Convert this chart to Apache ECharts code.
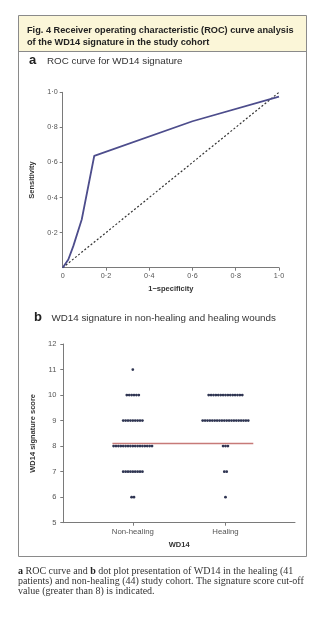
<!DOCTYPE html>
<html><head><meta charset="utf-8">
<script src="https://cdn.jsdelivr.net/npm/echarts@6/dist/echarts.min.js"></script>
<style>html,body{margin:0;padding:0;background:#fff}#c{width:325px;height:621px}</style>
</head><body><div id="c"></div>
<script>
// ---- Panel a: ROC curve ----
var rocFpr = [0, 0.026, 0.049, 0.088, 0.146, 0.6, 1.0];
var rocTpr = [0, 0.047, 0.123, 0.275, 0.638, 0.835, 0.975];
var diagX = [0, 1.0];
var diagY = [0, 1.0];
var rocXTicks = [0, 0.2, 0.4, 0.6, 0.8, 1.0];
var rocXLabels = ['0', '0·2', '0·4', '0·6', '0·8', '1·0'];
var rocYTicks = [0.2, 0.4, 0.6, 0.8, 1.0];
var rocYLabels = ['0·2', '0·4', '0·6', '0·8', '1·0'];

// ---- Panel b: dot plot (number of patients at each score) ----
var groups = ['Non-healing', 'Healing'];
var scores = [6, 7, 8, 9, 10, 11];
var nonHealingCounts = [2, 9, 17, 9, 6, 1];
var healingCounts = [1, 2, 3, 20, 15, 0];
var cutoffValue = 8.1;
var cutoffSpan = [-0.22, 1.3];
var dotYTicks = [5, 6, 7, 8, 9, 10, 11, 12];

var rocData = rocFpr.map(function (x, i) { return [x, rocTpr[i]]; });
var diagData = diagX.map(function (x, i) { return [x, diagY[i]]; });
var dotData = [];
[nonHealingCounts, healingCounts].forEach(function (counts, g) {
  counts.forEach(function (n, i) { if (n > 0) dotData.push([g, scores[i], n]); });
});

var axisCol = '#7a7a7a', labCol = '#555', fontF = '"Liberation Sans", Arial, sans-serif';
var serifF = '"Liberation Serif", "Times New Roman", serif';
var chart = echarts.init(document.getElementById('c'), null, {renderer: 'canvas'});
chart.setOption({
  animation: false,
  backgroundColor: '#fff',
  graphic: [
    {type: 'rect', shape: {x: 18.5, y: 15.5, width: 288, height: 36}, style: {fill: '#fbf6d8', stroke: 'none'}},
    {type: 'rect', shape: {x: 18.5, y: 15.5, width: 288, height: 541}, style: {fill: 'none', stroke: '#8a8a8a', lineWidth: 1}},
    {type: 'line', shape: {x1: 18.5, y1: 51.5, x2: 306.5, y2: 51.5}, style: {stroke: '#8a8a8a', lineWidth: 1}},
    {type: 'text', left: 27, top: 24, style: {text: 'Fig. 4 Receiver operating characteristic (ROC) curve analysis\nof the WD14 signature in the study cohort', font: 'bold 9.2px ' + fontF, fill: '#222', lineHeight: 12.5}},
    {type: 'text', left: 29, top: 54, style: {text: '{b|a}{t|ROC curve for WD14 signature}', rich: {b: {font: 'bold 13px ' + fontF, fill: '#222', width: 18}, t: {font: '9.8px ' + fontF, fill: '#333', padding: [2, 0, 0, 0]}}}},
    {type: 'text', left: 34, top: 311, style: {text: '{b|b}{t|WD14 signature in non-healing and healing wounds}', rich: {b: {font: 'bold 13px ' + fontF, fill: '#222', width: 17.5}, t: {font: '9.8px ' + fontF, fill: '#333', padding: [2, 0, 0, 0]}}}},
    {type: 'text', left: 18, top: 566, style: {text: '{b|a} ROC curve and {b|b} dot plot presentation of WD14 in the healing (41\npatients) and non-healing (44) study cohort. The signature score cut-off\nvalue (greater than 8) is indicated.', font: '10px ' + serifF, fill: '#333', lineHeight: 10, rich: {b: {font: 'bold 10px ' + serifF, fill: '#222'}}}}
  ],
  grid: [
    {left: 62.7, top: 92.3, width: 216.3, height: 175.4},
    {left: 63.3, top: 344, width: 231.7, height: 178.7}
  ],
  xAxis: [
    {gridIndex: 0, type: 'value', min: 0, max: 1, name: '1−specificity', nameLocation: 'middle', nameGap: 17,
     nameTextStyle: {fontFamily: fontF, fontWeight: 'bold', fontSize: 7.5, color: '#333'},
     splitLine: {show: false}, axisLine: {onZero: false, lineStyle: {color: axisCol}},
     axisTick: {customValues: rocXTicks.slice(1), length: 3, lineStyle: {color: axisCol}},
     axisLabel: {customValues: rocXTicks, fontFamily: fontF, fontSize: 7.2, color: labCol, margin: 5,
       formatter: function (v) { return rocXLabels[rocXTicks.indexOf(Math.round(v * 10) / 10)]; }}},
    {gridIndex: 1, type: 'value', min: -0.75, max: 1.75, name: 'WD14', nameLocation: 'middle', nameGap: 18,
     nameTextStyle: {fontFamily: fontF, fontWeight: 'bold', fontSize: 7.5, color: '#333'},
     splitLine: {show: false}, axisLine: {onZero: false, lineStyle: {color: axisCol}},
     axisTick: {customValues: [0, 1], length: 3, lineStyle: {color: axisCol}},
     axisLabel: {customValues: [0, 1], fontFamily: fontF, fontSize: 7.8, color: labCol, margin: 5,
       formatter: function (v) { return groups[Math.round(v)]; }}}
  ],
  yAxis: [
    {gridIndex: 0, type: 'value', min: 0, max: 1, name: 'Sensitivity', nameLocation: 'middle', nameGap: 27,
     nameTextStyle: {fontFamily: fontF, fontWeight: 'bold', fontSize: 7.5, color: '#333'},
     splitLine: {show: false}, axisLine: {show: true, onZero: false, lineStyle: {color: axisCol}},
     axisTick: {show: true, customValues: rocYTicks, length: 3, lineStyle: {color: axisCol}},
     axisLabel: {customValues: rocYTicks, fontFamily: fontF, fontSize: 7.2, color: labCol, margin: 5,
       formatter: function (v) { return rocYLabels[rocYTicks.indexOf(Math.round(v * 10) / 10)]; }}},
    {gridIndex: 1, type: 'value', min: 5, max: 12, interval: 1, name: 'WD14 signature score', nameLocation: 'middle', nameGap: 25,
     nameTextStyle: {fontFamily: fontF, fontWeight: 'bold', fontSize: 7.5, color: '#333'},
     splitLine: {show: false}, axisLine: {show: true, onZero: false, lineStyle: {color: axisCol}},
     axisTick: {show: true, length: 3, lineStyle: {color: axisCol}},
     axisLabel: {fontFamily: fontF, fontSize: 7.5, color: labCol, margin: 7}}
  ],
  series: [
    {type: 'line', xAxisIndex: 0, yAxisIndex: 0, data: diagData, symbol: 'none', silent: true,
     lineStyle: {color: '#333', width: 1.2, type: [2, 2]}},
    {type: 'line', xAxisIndex: 0, yAxisIndex: 0, data: rocData, symbol: 'none', silent: true,
     lineStyle: {color: '#4d4d8c', width: 1.8}},
    {type: 'line', xAxisIndex: 1, yAxisIndex: 1, symbol: 'none', silent: true, z: 1,
     data: [[cutoffSpan[0], cutoffValue], [cutoffSpan[1], cutoffValue]],
     lineStyle: {color: '#c77a78', width: 1.5}},
    {type: 'custom', xAxisIndex: 1, yAxisIndex: 1, data: dotData, z: 3,
     renderItem: function (params, api) {
       var c = api.coord([api.value(0), api.value(1)]);
       var n = api.value(2), step = 2.4, kids = [];
       for (var i = 0; i < n; i++) {
         kids.push({type: 'circle', shape: {cx: c[0] + (i - (n - 1) / 2) * step, cy: c[1], r: 1.4},
           style: {fill: '#2f3552'}});
       }
       return {type: 'group', children: kids};
     }}
  ]
});
</script></body></html>
